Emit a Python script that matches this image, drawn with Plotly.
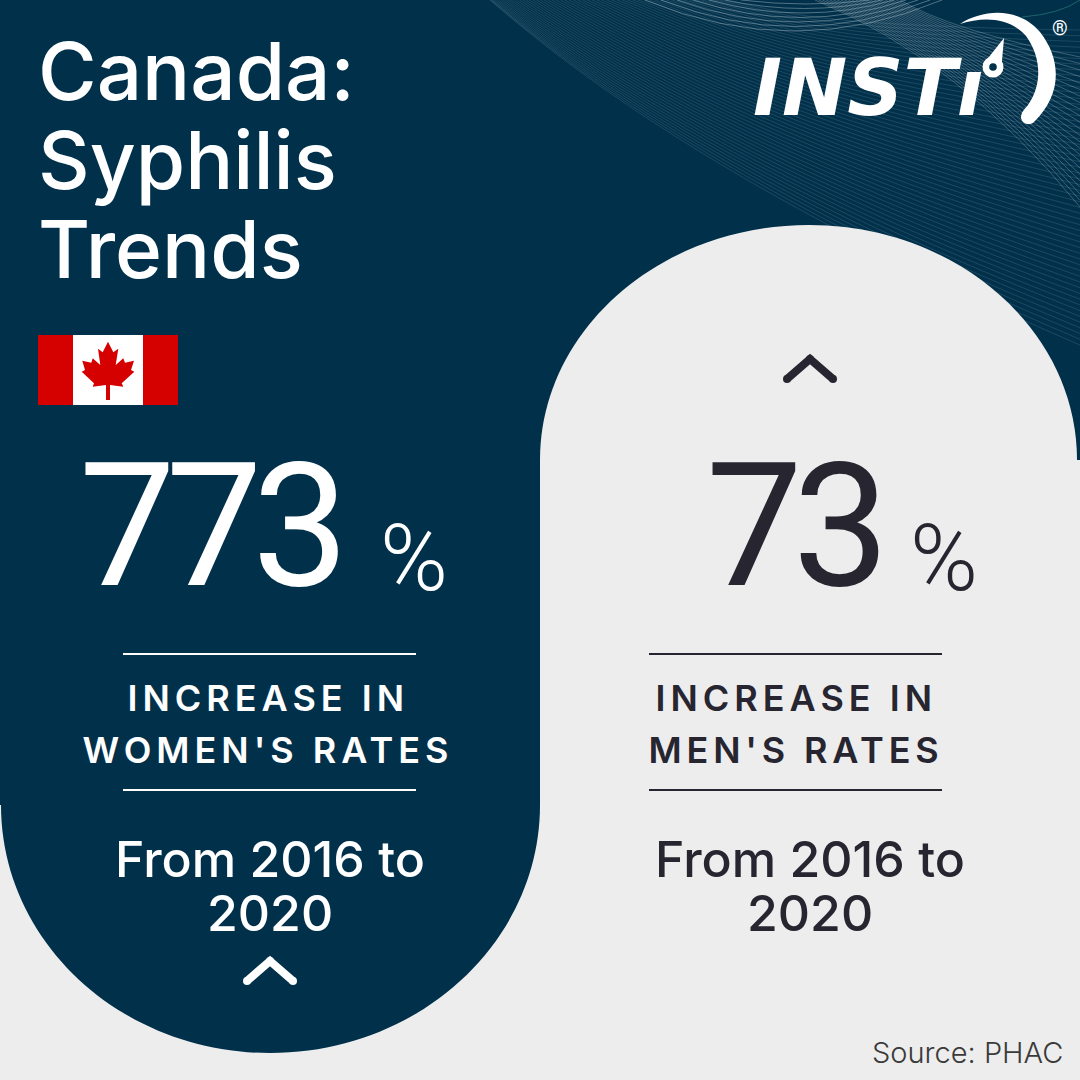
import json
import plotly.graph_objects as go

# ---- content ----
title_lines = ["Canada:", "Syphilis", "Trends"]
groups = ["WOMEN'S RATES", "MEN'S RATES"]
increase_pct = [773, 73]
period_lines = ["From 2016 to", "2020"]
increase_label = "INCREASE IN"
source_label = "Source: PHAC"
brand = "INST\u0131"

NAVY = "#01304b"
GRAY = "#ededed"
INK = "#272530"
RED = "#d50000"
W = "#ffffff"
K = 0.5523

fig = go.Figure()
fig.add_trace(go.Scatter(x=[0, 1080], y=[0, 1080], mode="markers", marker=dict(opacity=0), hoverinfo="skip", showlegend=False))

shapes = []


def path(d, fill=None, line=None, lw=0, opacity=1.0):
    shapes.append(dict(type="path", path=d, xref="x", yref="y", fillcolor=fill or "rgba(0,0,0,0)",
                       line=dict(color=line or "rgba(0,0,0,0)", width=lw), opacity=opacity, layer="above"))


def circle(cx, cy, r, fill):
    shapes.append(dict(type="circle", x0=cx - r, x1=cx + r, y0=cy - r, y1=cy + r, xref="x", yref="y",
                       fillcolor=fill, line=dict(width=0), layer="above"))


def rect(x0, y0, x1, y1, fill):
    shapes.append(dict(type="rect", x0=x0, x1=x1, y0=y0, y1=y1, xref="x", yref="y",
                       fillcolor=fill, line=dict(width=0), layer="above"))


# decorative line texture, top right (drawn first, the arch covers its lower part)
n = 56
for i in range(n):
    f = i / (n - 1)
    x0 = 490 + 230 * (1 - f) ** 1.5
    path(f"M {x0:.1f},0 C {x0 + 70:.1f},{10 + 50 * f:.1f} {720 + 60 * (1 - f):.1f},{25 + 165 * f:.1f} 1080,{30 + 315 * f:.1f}",
         line="#8fb3ba", lw=0.6, opacity=0.32)
for i in range(7):
    path(f"M {645 + i * 16},0 Q {795 + i * 2},{62 - i * 9} {942 - i * 12},0", line="#c8d6da", lw=0.8, opacity=0.5)
for i in range(24):
    f = i / 23
    path(f"M {815 + 85 * f:.1f},0 Q {960 - 10 * f:.1f},{60 - 30 * f:.1f} 1080,{207 - 150 * f:.1f}",
         line="#c8d6da", lw=0.7, opacity=0.42)
path("M 1022,17 Q 1060,14 1080,0", line="#2d7a78", lw=1, opacity=0.7)

# background panels (elliptical ends built from cubic segments)
rect(0, 805, 540, 1080, GRAY)
path(f"M 0,700 L 0,805 L 1,805 C 1,{805 + 248 * K:.1f} {270 - 269 * K:.1f},1053 270,1053 "
     f"C {270 + 270 * K:.1f},1053 540,{805 + 248 * K:.1f} 540,805 L 540,700 Z", fill=NAVY)
path(f"M 540,460 C 540,{460 - 235 * K:.1f} {809 - 269 * K:.1f},225 809,225 "
     f"C {809 + 268 * K:.1f},225 1077,{460 - 235 * K:.1f} 1077,460 Z", fill=GRAY)
rect(540, 460, 1080, 1080, GRAY)

# flag
rect(38, 335, 178, 405, RED)
rect(73, 335, 143, 405, W)
leaf = [(264, 65), (248, 97), (234, 86), (241, 135), (218, 115), (214, 128), (187, 122), (195, 150), (185, 155),
        (222, 190), (218, 200), (258, 195), (258, 240), (270, 240), (270, 195), (310, 200), (305, 190), (343, 155),
        (333, 150), (342, 122), (315, 128), (310, 115), (287, 135), (295, 86), (280, 97)]
path("M " + " L ".join(f"{20 + x / 3:.1f},{320 + y / 3:.1f}" for x, y in leaf) + " Z", fill=RED)

# logo gauge
path("M 960,24 C 985,8 1020,8 1040,32 C 1062,60 1062,95 1034,122 C 1030,126 1022,124 1021,118 "
     "C 1021,112 1024,110 1028,105 C 1042,85 1042,58 1026,36 C 1010,18 985,16 960,24 Z", fill=W)
path("M 1004,38 L 985,62 L 1001,72 Z", fill=W)
circle(993, 67, 10.5, W)
circle(993, 67, 3.8, NAVY)


# chevrons
def chevron(cx, top, color):
    path(f"M {cx - 23},{top + 24} L {cx},{top + 4} L {cx + 23},{top + 24}", line=color, lw=8)
    for dx, dy in ((-23, 24), (23, 24), (0, 4)):
        circle(cx + dx, top + dy, 4, color)


chevron(270, 957, W)
chevron(810, 355, INK)

# rules
for x0, x1, col in ((123, 416, W), (649, 942, INK)):
    for y in (654, 790):
        shapes.append(dict(type="line", x0=x0, x1=x1, y0=y, y1=y, xref="x", yref="y",
                           line=dict(color=col, width=2), layer="above"))

annotations = []


def text(s, x, y, size, color, family="Inter", weight=400, anchor="center"):
    annotations.append(dict(text=s, x=x, y=y, xref="x", yref="y", xanchor=anchor, yanchor="middle", showarrow=False,
                            font=dict(family=family, size=size, color=color, weight=weight)))


for s, y in zip(title_lines, (70, 159, 248)):
    text(s, 36, y, 80, W, weight=500, anchor="left")

text(str(increase_pct[0]), 209, 526, 172, W, family="Roboto", weight=400)
text(str(increase_pct[1]), 792, 526, 172, INK, family="Roboto", weight=400)
text("%", 414, 558, 92, W, family="Roboto", weight=300)
text("%", 944, 558, 92, INK, family="Roboto", weight=300)

text(increase_label, 268, 698, 36, W, weight=600)
text(groups[0], 268, 750, 36, W, weight=600)
text(increase_label, 796, 698, 36, INK, weight=600)
text(groups[1], 796, 750, 36, INK, weight=600)

for cx, col in ((270, W), (810, INK)):
    text(period_lines[0], cx, 859, 50, col, weight=500)
    text(period_lines[1], cx, 913, 50, col, weight=500)

text(source_label, 1065, 1052, 29, "#3a3a3a", weight=300, anchor="right")
text(brand, 868, 88, 78, W, family="DejaVu Sans", weight=700)
annotations[-1]["font"]["style"] = "italic"
text("®", 1060, 28, 20, W, family="Roboto", weight=400)

fig.update_layout(
    width=1080, height=1080, margin=dict(l=0, r=0, t=0, b=0),
    paper_bgcolor=NAVY, plot_bgcolor=NAVY, showlegend=False,
    xaxis=dict(range=[0, 1080], visible=False, fixedrange=True),
    yaxis=dict(range=[1080, 0], visible=False, fixedrange=True),
    shapes=shapes, annotations=annotations,
)

spacing = {str(increase_pct[0]): -10, str(increase_pct[1]): -10, increase_label: 5, groups[0]: 5, groups[1]: 4.8}
post = """
document.body.style.margin='0';document.documentElement.style.overflow='hidden';
var sp=%s;
function ls(){document.querySelectorAll('.annotation-text').forEach(function(t){
 var v=sp[t.textContent]; if(v!==undefined){t.style.letterSpacing=v+'px';}
});}
ls();setTimeout(ls,50);
""" % json.dumps(spacing)

fig.write_html("out.html", post_script=post, config={"displayModeBar": False})
